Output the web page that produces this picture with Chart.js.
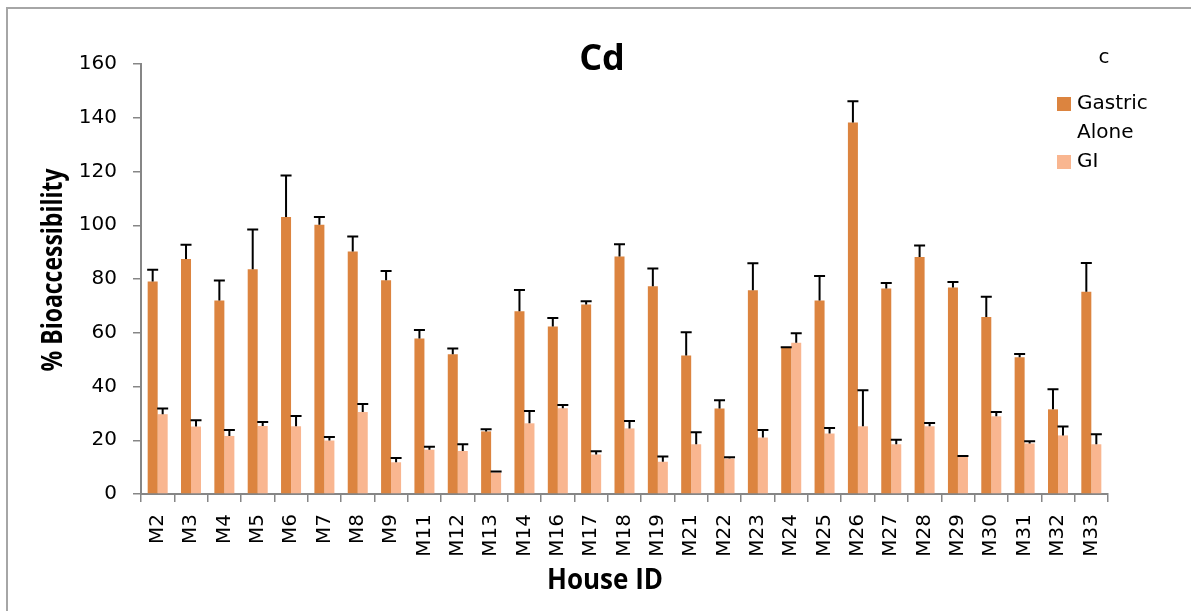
<!DOCTYPE html>
<html>
<head>
<meta charset="utf-8">
<script src="https://cdn.jsdelivr.net/npm/chart.js@4.4.1/dist/chart.umd.min.js"></script>
<style>
  html, body { margin: 0; padding: 0; background: #fff; }
  #wrap { width: 1191px; height: 611px; position: relative; }
</style>
</head>
<body>
<div id="wrap"><canvas id="chart" width="1191" height="611"></canvas></div>
<script>
// House IDs along the x axis
const houseIds = ['M2','M3','M4','M5','M6','M7','M8','M9','M11','M12','M13','M14','M16','M17','M18','M19','M21','M22','M23','M24','M25','M26','M27','M28','M29','M30','M31','M32','M33'];

// % bioaccessibility of Cd, gastric phase alone
const gastricAlone = [79.1, 87.4, 72.0, 83.6, 103.1, 100.2, 90.2, 79.5, 57.9, 52.0, 23.3, 68.0, 62.3, 70.5, 88.4, 77.3, 51.5, 31.8, 75.8, 54.3, 72.0, 138.2, 76.5, 88.2, 76.8, 65.9, 50.9, 31.5, 75.3];
const gastricAloneErr = [4.3, 5.3, 7.4, 14.8, 15.4, 2.9, 5.6, 3.5, 3.1, 2.1, 0.8, 7.9, 3.2, 1.2, 4.5, 6.6, 8.7, 3.1, 10.1, 0.3, 9.1, 7.9, 2.0, 4.3, 2.1, 7.5, 1.2, 7.5, 10.7];

// % bioaccessibility of Cd, gastro-intestinal phase
const gi = [29.7, 25.1, 21.6, 25.3, 25.2, 19.9, 30.5, 11.8, 16.5, 16.0, 8.0, 26.3, 31.9, 14.7, 24.4, 12.0, 18.5, 13.2, 21.0, 56.3, 22.5, 25.2, 18.5, 25.2, 13.8, 28.9, 18.8, 21.8, 18.5];
const giErr = [2.1, 2.3, 2.2, 1.5, 3.8, 1.3, 3.0, 1.6, 1.1, 2.5, 0.4, 4.6, 1.2, 1.2, 2.8, 2.0, 4.5, 0.5, 2.8, 3.5, 2.1, 13.4, 1.7, 1.2, 0.3, 1.6, 0.8, 3.3, 3.7];

// Y axis tick values
const yTicks = [0, 20, 40, 60, 80, 100, 120, 140, 160];

const seriesLabels = [['Gastric', 'Alone'], ['GI']];
const titleText = 'Cd';
const panelLetter = 'c';
const xTitle = 'House ID';
const yTitle = '% Bioaccessibility';

const FONT = '"DejaVu Sans", "Noto Sans", sans-serif';
const BOLD_FONT = '"Open Sans", "Noto Sans", sans-serif';
const AXIS_GREY = '#868686';

// Upper-only error bars with caps
const errorBars = {
  id: 'errorBars',
  afterDatasetsDraw(chart) {
    const ctx = chart.ctx;
    const y = chart.scales.y;
    ctx.save();
    ctx.strokeStyle = '#000';
    ctx.lineWidth = 2;
    chart.data.datasets.forEach((ds, di) => {
      const meta = chart.getDatasetMeta(di);
      meta.data.forEach((bar, i) => {
        const top = y.getPixelForValue(ds.data[i]);
        const end = y.getPixelForValue(ds.data[i] + ds.errorUp[i]);
        const half = 5.5;
        ctx.beginPath();
        ctx.moveTo(bar.x, top);
        ctx.lineTo(bar.x, end);
        ctx.moveTo(bar.x - half, end);
        ctx.lineTo(bar.x + half, end);
        ctx.stroke();
      });
    });
    ctx.restore();
  }
};

// Draws bold text squeezed to a given width (condensed look)
function condensedText(ctx, text, x, y, width, angle) {
  ctx.save();
  ctx.translate(x, y);
  ctx.rotate(angle);
  const w = ctx.measureText(text).width;
  ctx.scale(Math.min(1, width / w), 1);
  ctx.fillText(text, 0, 0);
  ctx.restore();
}

// Frame, title, axis titles, panel letter and legend
const decorations = {
  id: 'decorations',
  beforeDraw(chart) {
    const ctx = chart.ctx;
    ctx.save();
    ctx.strokeStyle = '#a6a6a6';
    ctx.lineWidth = 2;
    ctx.beginPath();
    ctx.moveTo(7, 611);
    ctx.lineTo(7, 8);
    ctx.lineTo(1191, 8);
    ctx.stroke();
    ctx.restore();
  },
  afterDraw(chart) {
    const ctx = chart.ctx;
    ctx.save();
    ctx.fillStyle = '#000';
    ctx.textAlign = 'center';
    ctx.textBaseline = 'middle';

    ctx.font = 'bold 36px ' + BOLD_FONT;
    ctx.fillText(titleText, 602, 60);

    ctx.font = 'bold 28px ' + BOLD_FONT;
    condensedText(ctx, xTitle, 605, 581, 116, 0);
    condensedText(ctx, yTitle, 54, 270, 203, -Math.PI / 2);

    ctx.font = '20px ' + FONT;
    ctx.fillText(panelLetter, 1104, 58);

    // legend
    ctx.textAlign = 'left';
    const rows = [104, 162];
    chart.data.datasets.forEach((ds, di) => {
      ctx.fillStyle = ds.backgroundColor;
      ctx.fillRect(1057, rows[di] - 7, 14, 14);
      ctx.fillStyle = '#000';
      ctx.font = '20px ' + FONT;
      seriesLabels[di].forEach((line, li) => {
        ctx.fillText(line, 1077, rows[di] + li * 29);
      });
    });
    ctx.restore();
  }
};

new Chart(document.getElementById('chart'), {
  type: 'bar',
  data: {
    labels: houseIds,
    datasets: [
      { label: 'Gastric Alone', data: gastricAlone, errorUp: gastricAloneErr, backgroundColor: '#dc843f' },
      { label: 'GI', data: gi, errorUp: giErr, backgroundColor: '#f9b690' }
    ]
  },
  options: {
    responsive: false,
    animation: false,
    events: [],
    layout: { padding: { left: 8, top: 64, right: 83, bottom: 6 } },
    datasets: { bar: { categoryPercentage: 0.6, barPercentage: 1.0 } },
    plugins: { legend: { display: false }, title: { display: false }, tooltip: { enabled: false } },
    scales: {
      x: {
        offset: true,
        grid: { display: true, drawOnChartArea: false, offset: true, tickLength: 8, color: AXIS_GREY, lineWidth: 1.5 },
        border: { color: AXIS_GREY, width: 2 },
        ticks: { color: '#000', font: { family: FONT, size: 20 }, maxRotation: 90, minRotation: 90, padding: 12, autoSkip: false },
        afterFit(scale) { scale.height = 611 - 494 - 6; }
      },
      y: {
        min: 0,
        max: 160,
        afterBuildTicks(scale) { scale.ticks = yTicks.map(v => ({ value: v })); },
        grid: { display: true, drawOnChartArea: false, tickLength: 8, color: AXIS_GREY, lineWidth: 1.5 },
        border: { color: AXIS_GREY, width: 2 },
        ticks: { color: '#000', font: { family: FONT, size: 20 }, padding: 16 },
        afterFit(scale) { scale.width = 141 - 8; }
      }
    }
  },
  plugins: [errorBars, decorations]
});
</script>
</body>
</html>
